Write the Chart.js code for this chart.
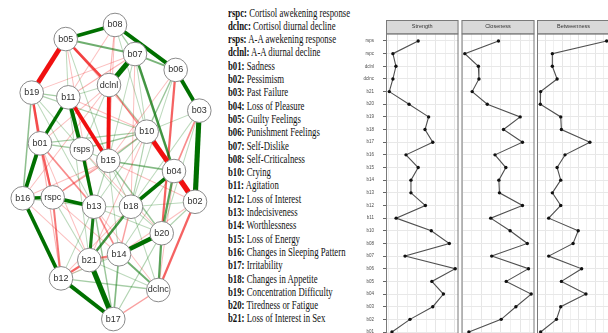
<!DOCTYPE html>
<html>
<head>
<meta charset="utf-8">
<script src="https://cdn.jsdelivr.net/npm/chart.js@4.4.1/dist/chart.umd.min.js"></script>
<style>
  html, body { margin: 0; padding: 0; background: #fff; }
  #wrap { position: relative; width: 608px; height: 333px; overflow: hidden; background: #fff; }
  canvas { position: absolute; top: 0; }
  #key {
    position: absolute; left: 228px; top: 6.6px;
    font-family: "Liberation Serif", "Times New Roman", serif;
    font-size: 11.5px; color: #111;
    transform: scaleX(0.76); transform-origin: 0 0; white-space: nowrap;
  }
  #key div { height: 13.3px; line-height: 13.3px; }
  #key b { font-weight: bold; }
</style>
</head>
<body>
<div id="wrap">
  <canvas id="net" width="220" height="333" style="left:0"></canvas>
  <div id="key"></div>
  <canvas id="pStrength" width="120" height="360" style="left:340px"></canvas>
  <canvas id="pCloseness" width="75" height="360" style="left:461px"></canvas>
  <canvas id="pBetweenness" width="80" height="360" style="left:536px"></canvas>
</div>
<script>
// ---- Variables in the network ----
const nodeNames = ['rspc','dclnc','rsps','dclnl','b01','b02','b03','b04','b05','b06','b07','b08',
                   'b10','b11','b12','b13','b14','b15','b16','b17','b18','b19','b20','b21'];
const nodeDescriptions = ['Cortisol awekening response','Cortisol diurnal decline','A-A awekening response',
  'A-A diurnal decline','Sadness','Pessimism','Past Failure','Loss of Pleasure','Guilty Feelings',
  'Punishment  Feelings','Self-Dislike','Self-Criticalness','Crying','Agitation','Loss of Interest',
  'Indecisiveness','Worthlessness','Loss of Energy','Changes  in Sleeping Pattern','Irritability',
  'Changes  in Appetite','Concentration  Difficulty','Tiredness or Fatigue','Loss of Interest in Sex'];

// Spring layout coordinates of each node (same order as nodeNames)
const nodeLayoutX = [-0.573, 0.483, -0.283, -0.010, -0.700, 0.850, 0.893, 0.640, -0.443, 0.657, 0.250, 0.050,
                      0.367, -0.417, -0.490, -0.160, 0.090, -0.017, -0.873, 0.033, 0.210, -0.783, 0.517, -0.207];
const nodeLayoutY = [-0.204, -0.816, 0.114, 0.538, 0.153, -0.233, 0.369, -0.030, 0.842, 0.638, 0.743, 0.935,
                      0.230, 0.457, -0.739, -0.266, -0.580, 0.038, -0.210, -1.008, -0.266, 0.488, -0.441, -0.618];

// Partial-correlation edges: [from, to, weight]
const edges = [
  ['b05','b08',0.22], ['b08','b06',0.24], ['b06','b03',0.24], ['b07','dclnl',0.33], ['b07','b04',0.14],
  ['b03','b02',0.33], ['b11','rsps',0.24], ['rsps','b13',0.20], ['b11','b01',0.20], ['b01','b16',0.24],
  ['b16','rspc',0.20], ['rspc','b13',0.22], ['b13','b21',0.18], ['b21','b17',0.33], ['b12','b17',0.24],
  ['b16','b12',0.22], ['b18','b04',0.22], ['b14','b20',0.28], ['b20','b04',0.12], ['b18','b21',0.14],
  ['b20','dclnc',0.12], ['b14','dclnc',0.10], ['b14','b17',0.08], ['b05','b07',0.10], ['b07','b06',0.09],
  ['b19','b16',0.07], ['b15','b04',0.08], ['b10','rsps',0.06], ['b15','b20',0.06], ['b13','b17',0.06],
  ['b12','dclnc',0.05], ['b06','b10',0.06], ['b10','b15',0.06], ['b08','b07',0.05], ['b19','b11',0.05],
  ['b01','rsps',0.05], ['b19','b10',0.04], ['b01','b10',0.05],
  ['b05','b19',-0.30], ['b05','dclnl',-0.15], ['b11','b15',-0.24], ['dclnl','b15',-0.24], ['b10','b04',-0.30],
  ['b04','b02',-0.35], ['b19','b01',-0.14], ['b06','b20',-0.12], ['b03','b04',-0.08], ['b02','dclnc',-0.12],
  ['rspc','b12',-0.10], ['b01','rspc',-0.12], ['b12','b21',-0.12], ['b21','b14',-0.10], ['b13','b14',-0.08],
  ['b18','b14',-0.06], ['b01','b13',-0.08], ['rspc','b15',-0.06], ['dclnc','b17',-0.06],
  // weaker associations
  ['b05','b11',0.03], ['b05','b15',0.03], ['b19','rsps',0.03], ['b11','dclnl',0.03], ['dclnl','b10',0.04],
  ['dclnl','rsps',0.03], ['b07','b10',0.03], ['b07','b15',0.03], ['b03','b10',0.03], ['b03','b18',0.03],
  ['b10','b18',0.04], ['b10','b13',0.03], ['b15','b13',0.04], ['b15','b18',0.03], ['b15','b14',0.03],
  ['b16','b13',0.03], ['rspc','b21',0.03], ['b13','b12',0.03], ['b13','b18',0.04], ['b18','b20',0.03],
  ['b18','dclnc',0.03], ['b21','dclnc',0.03], ['b14','b12',0.03], ['b20','b17',0.04], ['b02','b20',0.04],
  ['b02','b18',0.03], ['b04','b14',0.03], ['b13','b20',0.03], ['rsps','b18',0.03], ['rsps','b15',0.04],
  ['b19','b13',0.03], ['b11','b21',0.03], ['b06','b18',0.03], ['b08','b10',0.03], ['b03','b20',0.03],
  ['b05','b10',-0.03], ['b05','b13',-0.03], ['b08','b15',-0.03], ['b08','dclnl',-0.04], ['b08','b11',-0.03],
  ['b07','b19',-0.03], ['b07','b18',-0.03], ['b07','b11',-0.04], ['b11','b10',-0.03], ['dclnl','b01',-0.03],
  ['dclnl','b16',-0.03], ['dclnl','b02',-0.04], ['dclnl','b04',-0.04], ['b10','rspc',-0.03], ['b15','b16',-0.03],
  ['b15','b02',-0.03], ['b19','rspc',-0.03], ['b16','b21',-0.03], ['rsps','b20',-0.03], ['b13','dclnc',-0.03],
  ['b18','b12',-0.03], ['b14','b02',-0.03], ['rspc','b14',-0.03], ['b01','b21',-0.03], ['b04','dclnc',-0.03],
  ['b10','b21',-0.03], ['b12','b20',-0.03], ['b11','b13',-0.04], ['b06','b15',-0.03], ['b01','b12',-0.04]
];

// ---- Centrality indices (standardized), rows from top to bottom ----
const rowLabels = ['rsps','rspc','dclnl','dclnc','b21','b20','b19','b18','b17','b16','b15','b14',
                   'b13','b12','b11','b10','b08','b07','b06','b05','b04','b03','b02','b01'];
const strength    = [0.07,-1.26,-1.10,-1.26,-1.45,-0.41,0.62,0.43,0.84,-0.57,0.07,-0.31,
                     -0.31,0.45,-1.09,0.76,1.71,-0.62,2.02,0.79,1.40,0.84,-0.36,-1.31];
const closeness   = [-0.12,-1.86,-1.16,-1.13,-1.48,-0.70,1.00,0.14,1.12,-0.30,0.26,-0.10,
                     -0.07,1.12,-0.52,0.48,1.37,-0.47,1.43,0.28,1.57,0.78,0.02,-1.65];
const betweenness = [2.70,-0.60,-0.60,-0.31,-1.31,-1.33,-0.09,-0.05,1.68,0.17,-0.31,-0.09,
                     -0.60,-0.09,-0.82,0.97,0.66,-0.82,1.18,-0.05,1.44,-0.09,-0.35,-1.31];

Chart.defaults.font.family = '"Liberation Sans", Arial, sans-serif';

// ---- Variable key ----
const key = document.getElementById('key');
nodeNames.forEach((n, i) => {
  const d = document.createElement('div');
  const b = document.createElement('b');
  b.textContent = n + ':';
  d.appendChild(b);
  d.appendChild(document.createTextNode(' ' + nodeDescriptions[i].replace(/\s+/g, ' ')));
  key.appendChild(d);
});

// ---- Network ----
const maxW = Math.max(...edges.map(e => Math.abs(e[2])));
function edgeStyle(w) {
  const r = Math.abs(w) / maxW;
  const a = Math.min(1, 0.14 + 1.5 * r);
  const col = w > 0 ? `rgba(0,112,0,${a})` : `rgba(240,16,16,${a})`;
  return { col, width: 0.6 + 4.8 * r };
}
const idx = name => nodeNames.indexOf(name);
const edgeSets = edges.map(([f, t, w]) => {
  const s = edgeStyle(w);
  return {
    type: 'line',
    data: [{ x: nodeLayoutX[idx(f)], y: nodeLayoutY[idx(f)] }, { x: nodeLayoutX[idx(t)], y: nodeLayoutY[idx(t)] }],
    borderColor: s.col, borderWidth: s.width, pointRadius: 0, fill: false, showLine: true,
    order: -Math.round(Math.abs(w) * 1000)
  };
});
const nodeSet = {
  type: 'scatter',
  data: nodeNames.map((n, i) => ({ x: nodeLayoutX[i], y: nodeLayoutY[i] })),
  pointRadius: 11.8, pointBackgroundColor: '#ffffff', pointBorderColor: '#8a8a8a', pointBorderWidth: 1,
  order: -100000
};
const nodeLabels = {
  id: 'nodeLabels',
  afterDatasetsDraw(chart) {
    const meta = chart.getDatasetMeta(0);
    const ctx = chart.ctx;
    ctx.save();
    ctx.font = '9px "Liberation Sans", Arial, sans-serif';
    ctx.fillStyle = '#2e2e2e';
    ctx.textAlign = 'center';
    ctx.textBaseline = 'middle';
    meta.data.forEach((pt, i) => ctx.fillText(nodeNames[i], pt.x, pt.y));
    ctx.restore();
  }
};
new Chart(document.getElementById('net'), {
  type: 'scatter',
  data: { datasets: [nodeSet, ...edgeSets] },
  options: {
    responsive: false, animation: false, events: [],
    layout: { padding: 0, autoPadding: false },
    plugins: { legend: { display: false }, tooltip: { enabled: false } },
    scales: {
      x: { type: 'linear', min: -1.1, max: 1.1, display: false },
      y: { type: 'linear', min: -1.1, max: 1.1, display: false }
    }
  },
  plugins: [nodeLabels]
});

// ---- Centrality panels ----
const stripPlugin = {
  id: 'strip',
  beforeDraw(chart) {
    const { ctx, chartArea: a } = chart;
    ctx.save();
    ctx.fillStyle = '#d9d9d9';
    ctx.fillRect(a.left, 20, a.right - a.left, a.top - 20);
    ctx.restore();
  },
  afterDraw(chart) {
    const { ctx, chartArea: a } = chart;
    ctx.save();
    ctx.strokeStyle = '#7a7a7a';
    ctx.lineWidth = 1;
    ctx.strokeRect(a.left + 0.5, 20.5, a.right - a.left - 1, a.top - 20);
    ctx.strokeRect(a.left + 0.5, a.top + 0.5, a.right - a.left - 1, a.bottom - a.top);
    ctx.restore();
  }
};

function makePanel(id, title, values, o) {
  const lo = Math.min(...values), hi = Math.max(...values), pad = (hi - lo) * 0.05;
  return new Chart(document.getElementById(id), {
    type: 'line',
    data: { datasets: [{
      data: values.map((v, i) => ({ x: v, y: i })),
      borderColor: '#505050', borderWidth: 1.1, tension: 0,
      pointRadius: 1.7, pointBackgroundColor: '#111', pointBorderWidth: 0
    }] },
    options: {
      responsive: false, animation: false, events: [],
      layout: { padding: { left: o.padL, right: o.padR, top: 0, bottom: 20.4 }, autoPadding: false },
      plugins: {
        legend: { display: false }, tooltip: { enabled: false },
        title: { display: true, text: title, fullSize: false, color: '#333',
                 font: { size: 5.5, weight: 'normal', lineHeight: 1.2 },
                 padding: { top: 23.4, bottom: 3.4 } }
      },
      scales: {
        x: {
          type: 'linear', min: lo - pad, max: hi + pad,
          ticks: { display: false, stepSize: 0.5, includeBounds: false },
          grid: { drawTicks: false, color: '#e6e6e6',
                  lineWidth: c => (Math.abs(c.tick.value % 1) < 1e-6 ? 1 : 0.6) },
          border: { display: false }
        },
        y: {
          type: 'linear', reverse: true, min: -0.6, max: rowLabels.length - 0.4,
          afterBuildTicks: s => { s.ticks = rowLabels.map((_, i) => ({ value: i })); },
          afterFit: s => { s.width = o.axisW; },
          ticks: { display: o.labels, autoSkip: false, padding: 9, color: '#4d4d4d',
                   font: { size: 4.5 }, callback: v => rowLabels[v] },
          grid: { color: '#e8e8e8', drawTicks: o.labels, tickLength: 3, tickColor: '#666' },
          border: { display: false }
        }
      }
    },
    plugins: [stripPlugin]
  });
}

makePanel('pStrength', 'Strength', strength, { padL: 0, padR: 1.5, axisW: 46, labels: true });
makePanel('pCloseness', 'Closeness', closeness, { padL: 0.5, padR: 1.5, axisW: 0, labels: false });
makePanel('pBetweenness', 'Betweenness', betweenness, { padL: 1, padR: 6, axisW: 0, labels: false });
</script>
</body>
</html>
